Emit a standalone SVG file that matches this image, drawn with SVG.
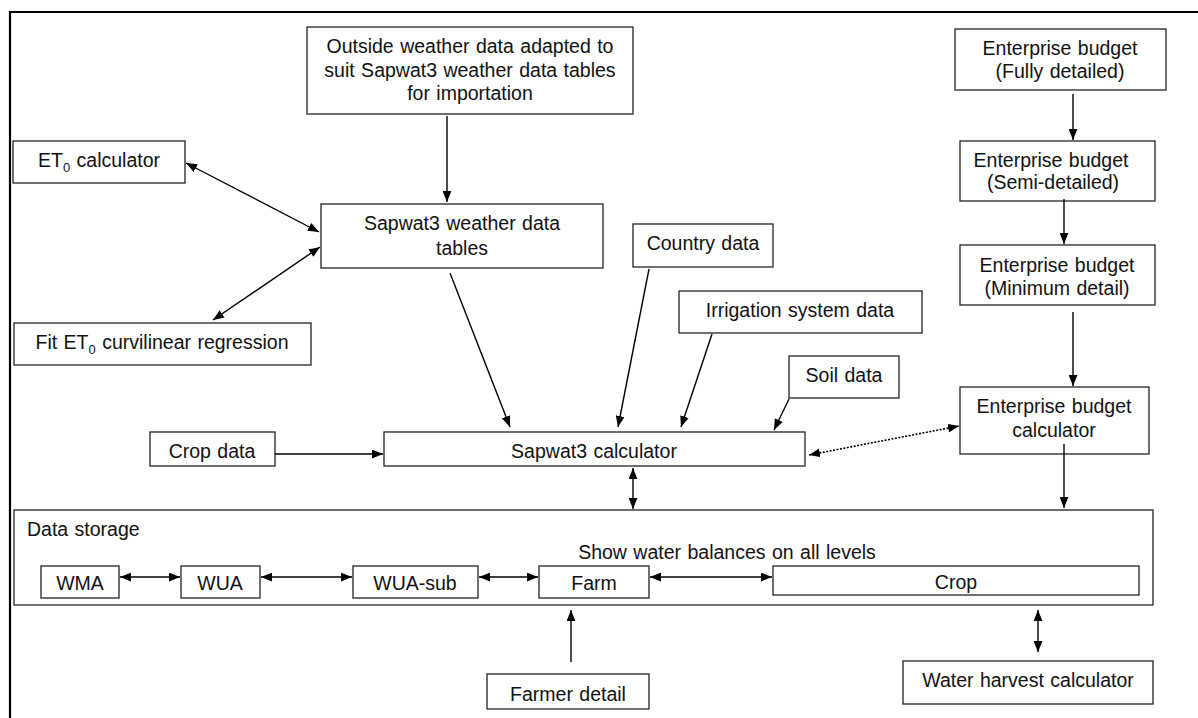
<svg xmlns="http://www.w3.org/2000/svg" width="1198" height="718" viewBox="0 0 1198 718">
<style>
.b{fill:#fff;stroke:#222;stroke-width:1.3}
.t{font-family:"Liberation Sans",Arial,sans-serif;font-size:19.5px;word-spacing:1px;fill:#111;text-anchor:middle}
.l{font-family:"Liberation Sans",Arial,sans-serif;font-size:19.5px;word-spacing:1px;fill:#111}
.c{fill:none;stroke:#000;stroke-width:1.4}
.d{fill:none;stroke:#000;stroke-width:1.6;stroke-dasharray:2 1.5}
</style>
<defs>
<marker id="ah" viewBox="0 0 10 8" refX="10" refY="4" markerWidth="11" markerHeight="9" markerUnits="userSpaceOnUse" orient="auto-start-reverse">
<path d="M0,0 L10,4 L0,8 z" fill="#000"/>
</marker>
</defs>
<rect width="1198" height="718" fill="#fff"/>
<g id="frame">
<path d="M10,718 V12 H1198" fill="none" stroke="#000" stroke-width="2.2"/>
</g>
<g id="data-storage">
<rect class="b" x="14" y="510" width="1139" height="95"/>
<text class="l" x="27" y="536">Data storage</text>
<text class="t" x="727" y="559">Show water balances on all levels</text>
</g>
<g id="outside-weather">
<rect class="b" x="307" y="27" width="326" height="87"/>
<text class="t" x="470" y="53">Outside weather data adapted to</text>
<text class="t" x="470" y="77">suit Sapwat3 weather data tables</text>
<text class="t" x="470" y="100">for importation</text>
</g>
<g id="et0-calc">
<rect class="b" x="13" y="141" width="172" height="42"/>
<text class="t" x="99" y="167">ET<tspan font-size="13" dy="5">0</tspan><tspan dy="-5"> calculator</tspan></text>
</g>
<g id="weather-tables">
<rect class="b" x="321" y="204" width="282" height="64"/>
<text class="t" x="462" y="230">Sapwat3 weather data</text>
<text class="t" x="462" y="255">tables</text>
</g>
<g id="fit-et0">
<rect class="b" x="14" y="323" width="297" height="42"/>
<text class="t" x="162" y="349">Fit ET<tspan font-size="13" dy="5">0</tspan><tspan dy="-5"> curvilinear regression</tspan></text>
</g>
<g id="country">
<rect class="b" x="633" y="224" width="140" height="43"/>
<text class="t" x="703" y="250">Country data</text>
</g>
<g id="irrigation">
<rect class="b" x="679" y="291" width="243" height="42"/>
<text class="t" x="800" y="317">Irrigation system data</text>
</g>
<g id="soil">
<rect class="b" x="789" y="356" width="110" height="42"/>
<text class="t" x="844" y="382">Soil data</text>
</g>
<g id="crop-data">
<rect class="b" x="150" y="432" width="125" height="34"/>
<text class="t" x="212" y="458">Crop data</text>
</g>
<g id="sapwat-calc">
<rect class="b" x="384" y="432" width="421" height="34"/>
<text class="t" x="594" y="458">Sapwat3 calculator</text>
</g>
<g id="eb-full">
<rect class="b" x="955" y="29" width="211" height="61"/>
<text class="t" x="1060" y="55">Enterprise budget</text>
<text class="t" x="1060" y="78">(Fully detailed)</text>
</g>
<g id="eb-semi">
<rect class="b" x="960" y="141" width="195" height="60"/>
<text class="t" x="1051" y="167">Enterprise budget</text>
<text class="t" x="1053" y="189">(Semi-detailed)</text>
</g>
<g id="eb-min">
<rect class="b" x="960" y="245" width="195" height="60"/>
<text class="t" x="1057" y="272">Enterprise budget</text>
<text class="t" x="1057" y="295">(Minimum detail)</text>
</g>
<g id="eb-calc">
<rect class="b" x="960" y="387" width="189" height="67"/>
<text class="t" x="1054" y="413">Enterprise budget</text>
<text class="t" x="1054" y="437">calculator</text>
</g>
<g id="wma">
<rect class="b" x="41" y="566" width="78" height="32"/>
<text class="t" x="80" y="590">WMA</text>
</g>
<g id="wua">
<rect class="b" x="181" y="566" width="79" height="32"/>
<text class="t" x="220" y="590">WUA</text>
</g>
<g id="wua-sub">
<rect class="b" x="353" y="566" width="125" height="32"/>
<text class="t" x="415" y="590">WUA-sub</text>
</g>
<g id="farm">
<rect class="b" x="539" y="566" width="110" height="32"/>
<text class="t" x="594" y="590">Farm</text>
</g>
<g id="crop">
<rect class="b" x="773" y="566" width="366" height="29"/>
<text class="t" x="956" y="589">Crop</text>
</g>
<g id="farmer-detail">
<rect class="b" x="487" y="674" width="162" height="35"/>
<text class="t" x="568" y="701">Farmer detail</text>
</g>
<g id="water-harvest">
<rect class="b" x="903" y="661" width="250" height="43"/>
<text class="t" x="1028" y="687">Water harvest calculator</text>
</g>
<g id="connectors">
<line class="c" x1="447" y1="116" x2="447" y2="202" marker-end="url(#ah)"/>
<line class="c" x1="186" y1="163" x2="319" y2="232" marker-start="url(#ah)" marker-end="url(#ah)"/>
<line class="c" x1="213" y1="320" x2="320" y2="247" marker-start="url(#ah)" marker-end="url(#ah)"/>
<line class="c" x1="275" y1="454" x2="383" y2="454" marker-end="url(#ah)"/>
<line class="c" x1="450" y1="273" x2="510" y2="427" marker-end="url(#ah)"/>
<line class="c" x1="649" y1="269" x2="618" y2="427" marker-end="url(#ah)"/>
<line class="c" x1="712" y1="334" x2="681" y2="427" marker-end="url(#ah)"/>
<line class="c" x1="789" y1="399" x2="774" y2="430" marker-end="url(#ah)"/>
<line class="d" x1="809" y1="455" x2="959" y2="426" marker-start="url(#ah)" marker-end="url(#ah)"/>
<line class="c" x1="1073" y1="94" x2="1073" y2="140" marker-end="url(#ah)"/>
<line class="c" x1="1064" y1="199" x2="1064" y2="244" marker-end="url(#ah)"/>
<line class="c" x1="1073" y1="312" x2="1073" y2="386" marker-end="url(#ah)"/>
<line class="c" x1="1064" y1="444" x2="1064" y2="508" marker-end="url(#ah)"/>
<line class="c" x1="633" y1="468" x2="633" y2="509" marker-start="url(#ah)" marker-end="url(#ah)"/>
<line class="c" x1="120" y1="577" x2="180" y2="577" marker-start="url(#ah)" marker-end="url(#ah)"/>
<line class="c" x1="261" y1="577" x2="352" y2="577" marker-start="url(#ah)" marker-end="url(#ah)"/>
<line class="c" x1="479" y1="577" x2="538" y2="577" marker-start="url(#ah)" marker-end="url(#ah)"/>
<line class="c" x1="650" y1="577" x2="772" y2="577" marker-start="url(#ah)" marker-end="url(#ah)"/>
<line class="c" x1="571" y1="662" x2="571" y2="610" marker-end="url(#ah)"/>
<line class="c" x1="1038" y1="610" x2="1038" y2="652" marker-start="url(#ah)" marker-end="url(#ah)"/>
</g>
</svg>
